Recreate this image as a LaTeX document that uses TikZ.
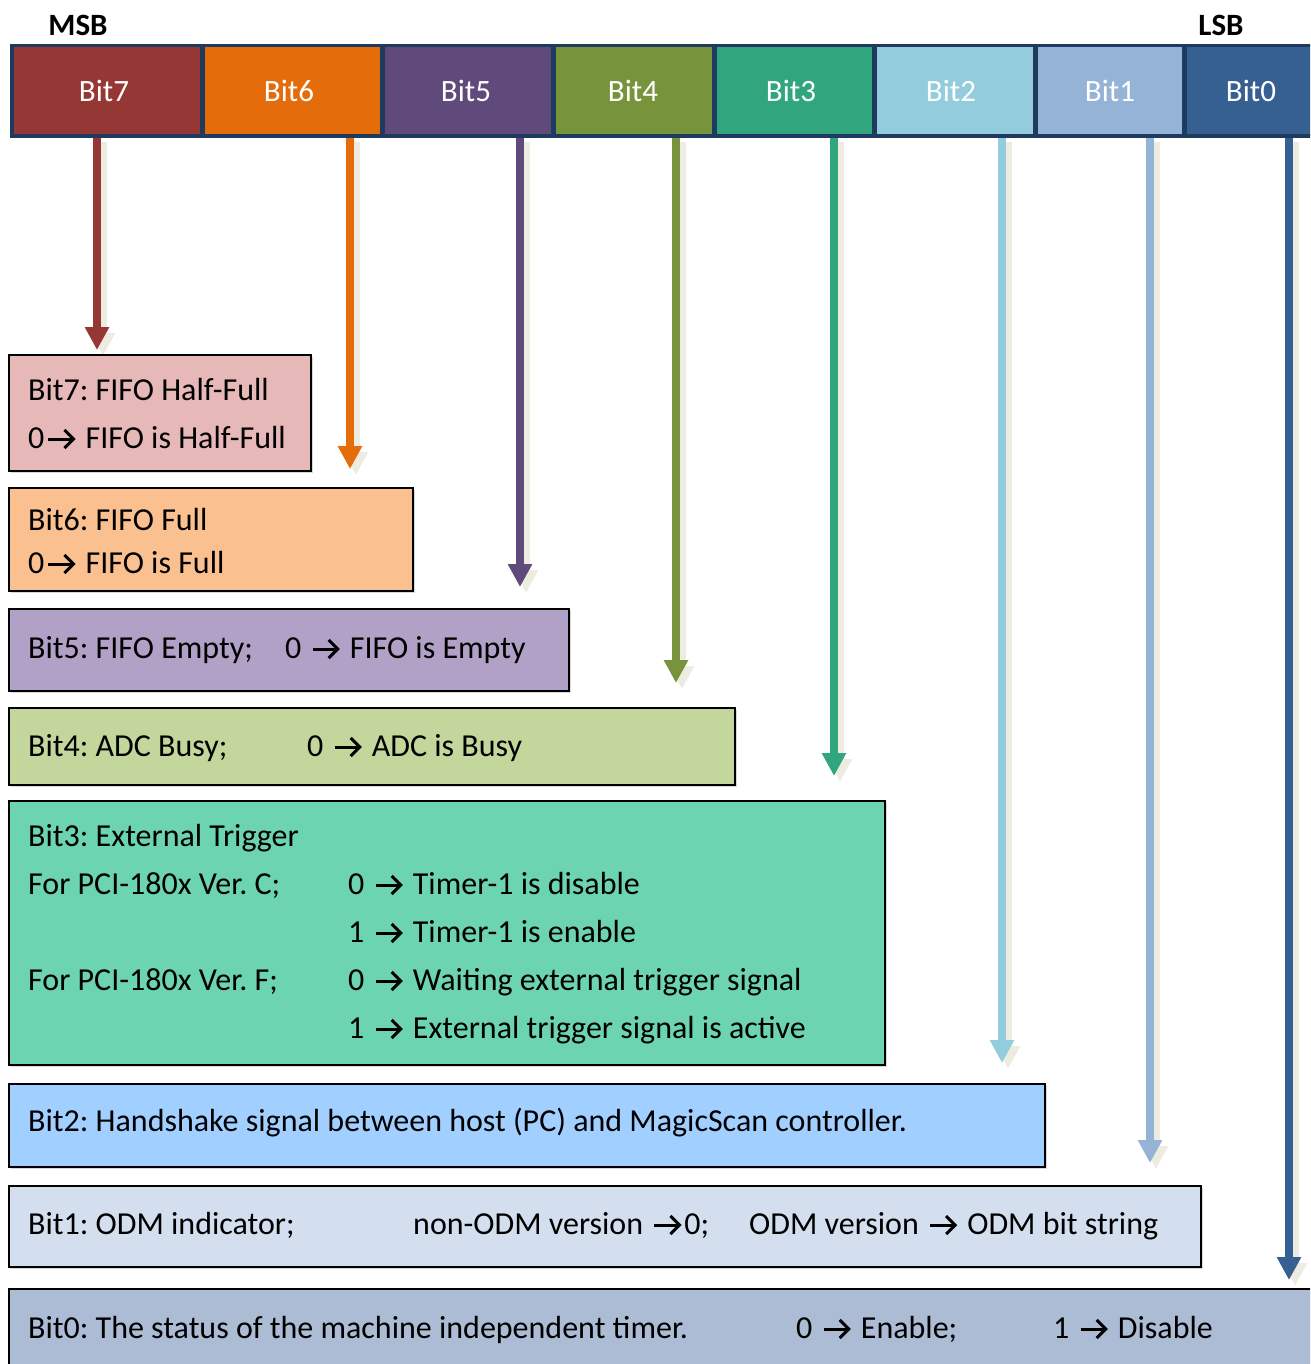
\documentclass[tikz,border=0pt]{standalone}
\usepackage{fontspec}
\setmainfont{Carlito}
\usetikzlibrary{arrows.meta,shadows}
\newcommand{\myarr}{\tikz[baseline=0pt,x=1pt,y=1pt]{\path (-4,0) rectangle (30,18);
  \draw[line width=3pt] (0,9) -- (24,9);
  \draw[line width=3pt, miter limit=10] (16,0) -- (25,9) -- (16,18);}}
\definecolor{h7}{HTML}{953735}
\definecolor{h6}{HTML}{E46C0A}
\definecolor{h5}{HTML}{604A7B}
\definecolor{h4}{HTML}{77933C}
\definecolor{h3}{HTML}{31A67E}
\definecolor{h2}{HTML}{93CDDD}
\definecolor{h1}{HTML}{95B3D7}
\definecolor{h0}{HTML}{376092}
\definecolor{hdrline}{HTML}{1F3A5F}
\definecolor{f7}{HTML}{E6B9B8}
\definecolor{f6}{HTML}{FAC090}
\definecolor{f5}{HTML}{B2A1C7}
\definecolor{f4}{HTML}{C3D69B}
\definecolor{f3}{HTML}{6CD4B0}
\definecolor{f2}{HTML}{A1CFFF}
\definecolor{f1}{HTML}{D3DFEE}
\definecolor{f0}{HTML}{ACBCD4}
\definecolor{shadowc}{HTML}{EEECE1}
\tikzset{
  cell/.style={draw=hdrline, line width=2.5pt, minimum height=89pt, inner sep=0pt,
    anchor=north west, fill=#1},
  celltext/.style={inner sep=0pt, anchor=center, text=white, font=\fontsize{31}{37}\selectfont},
  infobox/.style={draw=black, line width=2pt, inner sep=0pt, anchor=north west,
    drop shadow={shadow xshift=2pt, shadow yshift=-2pt, fill=black!30}},
  txt/.style={inner sep=0pt, anchor=base west, font=\frenchspacing\fontsize{32}{38}\selectfont},
  lbl/.style={inner sep=0pt, anchor=base, font=\bfseries\fontsize{31}{37}\selectfont},
  bitarrow/.style={line width=8pt, draw=#1, -{Triangle[length=23pt,width=23pt]}},
  arrshadow/.style={line width=8pt, draw=shadowc, -{Triangle[length=23pt,width=23pt]}},
}
\begin{document}
\begin{tikzpicture}[x=1pt,y=-1pt]
\useasboundingbox (0,0) rectangle (1310,1364);
\clip (0,0) rectangle (1310,1364);

% labels
\node[lbl] (msb) at (78,36) {MSB};
\node[lbl] (lsb) at (1221,36) {LSB};

% arrow end points
\coordinate (e7) at (97,350);
\coordinate (e6) at (350,469);
\coordinate (e5) at (520,587);
\coordinate (e4) at (676,683);
\coordinate (e3) at (834,776);
\coordinate (e2) at (1002,1063);
\coordinate (e1) at (1150,1163);
\coordinate (e0) at (1289,1280);

% header cells
\node[cell=h7, minimum width=190pt] (c7) at (11,45) {};
\node[cell=h6, minimum width=180pt] (c6) at (201,45) {};
\node[cell=h5, minimum width=171pt] (c5) at (381,45) {};
\node[cell=h4, minimum width=161pt] (c4) at (552,45) {};
\node[cell=h3, minimum width=160pt] (c3) at (713,45) {};
\node[cell=h2, minimum width=161pt] (c2) at (873,45) {};
\node[cell=h1, minimum width=149pt] (c1) at (1034,45) {};
\node[cell=h0, minimum width=136pt] (c0) at (1183,45) {};
\node[celltext] (l7) at (104,91) {Bit7};
\node[celltext] (l6) at (289,91) {Bit6};
\node[celltext] (l5) at (466,91) {Bit5};
\node[celltext] (l4) at (633,91) {Bit4};
\node[celltext] (l3) at (791,91) {Bit3};
\node[celltext] (l2) at (951,91) {Bit2};
\node[celltext] (l1) at (1110,91) {Bit1};
\node[celltext] (l0) at (1251,91) {Bit0};

% arrow shadows
\foreach \i in {7,6,5,4,3,2,1,0}{
  \draw[arrshadow] ([shift={(6,6)}]c\i.south -| e\i) -- ([shift={(6,6)}]e\i);
}
% arrows
\foreach \i in {7,6,5,4,3,2,1,0}{
  \draw[bitarrow=h\i] (c\i.south -| e\i) -- (e\i);
}
% redraw header border on top
\foreach \i in {7,6,5,4,3,2,1,0}{
  \draw[draw=hdrline, line width=2.5pt] (c\i.south west) rectangle (c\i.north east);
}

% boxes
\node[infobox, fill=f7, minimum width=302pt, minimum height=116pt] (b7) at (8,354) {};
\node[infobox, fill=f6, minimum width=404pt, minimum height=103pt] (b6) at (8,487) {};
\node[infobox, fill=f5, minimum width=560pt, minimum height=82pt] (b5) at (8,608) {};
\node[infobox, fill=f4, minimum width=726pt, minimum height=77pt] (b4) at (8,707) {};
\node[infobox, fill=f3, minimum width=876pt, minimum height=264pt] (b3) at (8,800) {};
\node[infobox, fill=f2, minimum width=1036pt, minimum height=83pt] (b2) at (8,1083) {};
\node[infobox, fill=f1, minimum width=1192pt, minimum height=81pt] (b1) at (8,1185) {};
\node[infobox, fill=f0, minimum width=1312pt, minimum height=90pt] (b0) at (8,1288) {};

% texts
\node[txt] (t7a) at (28,400) {Bit7: FIFO Half-Full};
\node[txt] (t7b) at (28,448) {0\myarr{} FIFO is Half-Full};
\node[txt] (t6a) at (28,530) {Bit6: FIFO Full};
\node[txt] (t6b) at (28,573) {0\myarr{} FIFO is Full};
\node[txt] (t5a) at (28,658) {Bit5: FIFO Empty;};
\node[txt] (t5b) at (285,658) {0 \myarr{} FIFO is Empty};
\node[txt] (t4a) at (28,756) {Bit4: ADC Busy;};
\node[txt] (t4b) at (307,756) {0 \myarr{} ADC is Busy};
\node[txt] (t3a) at (28,846) {Bit3: External Trigger};
\node[txt] (t3b) at (28,894) {For PCI-180x Ver. C;};
\node[txt] (t3c) at (348,894) {0 \myarr{} Timer-1 is disable};
\node[txt] (t3d) at (348,942) {1 \myarr{} Timer-1 is enable};
\node[txt] (t3e) at (28,990) {For PCI-180x Ver. F;};
\node[txt] (t3f) at (348,990) {0 \myarr{} Waiting external trigger signal};
\node[txt] (t3g) at (348,1038) {1 \myarr{} External trigger signal is active};
\node[txt] (t2a) at (28,1131) {Bit2: Handshake signal between host (PC) and MagicScan controller.};
\node[txt] (t1a) at (28,1234) {Bit1: ODM indicator;};
\node[txt] (t1b) at (413,1234) {non-ODM version \myarr0;};
\node[txt] (t1c) at (749,1234) {ODM version \myarr{} ODM bit string};
\node[txt] (t0a) at (28,1338) {Bit0: The status of the machine independent timer.};
\node[txt] (t0b) at (796,1338) {0 \myarr{} Enable;};
\node[txt] (t0c) at (1053,1338) {1 \myarr{} Disable};
\end{tikzpicture}
\end{document}
